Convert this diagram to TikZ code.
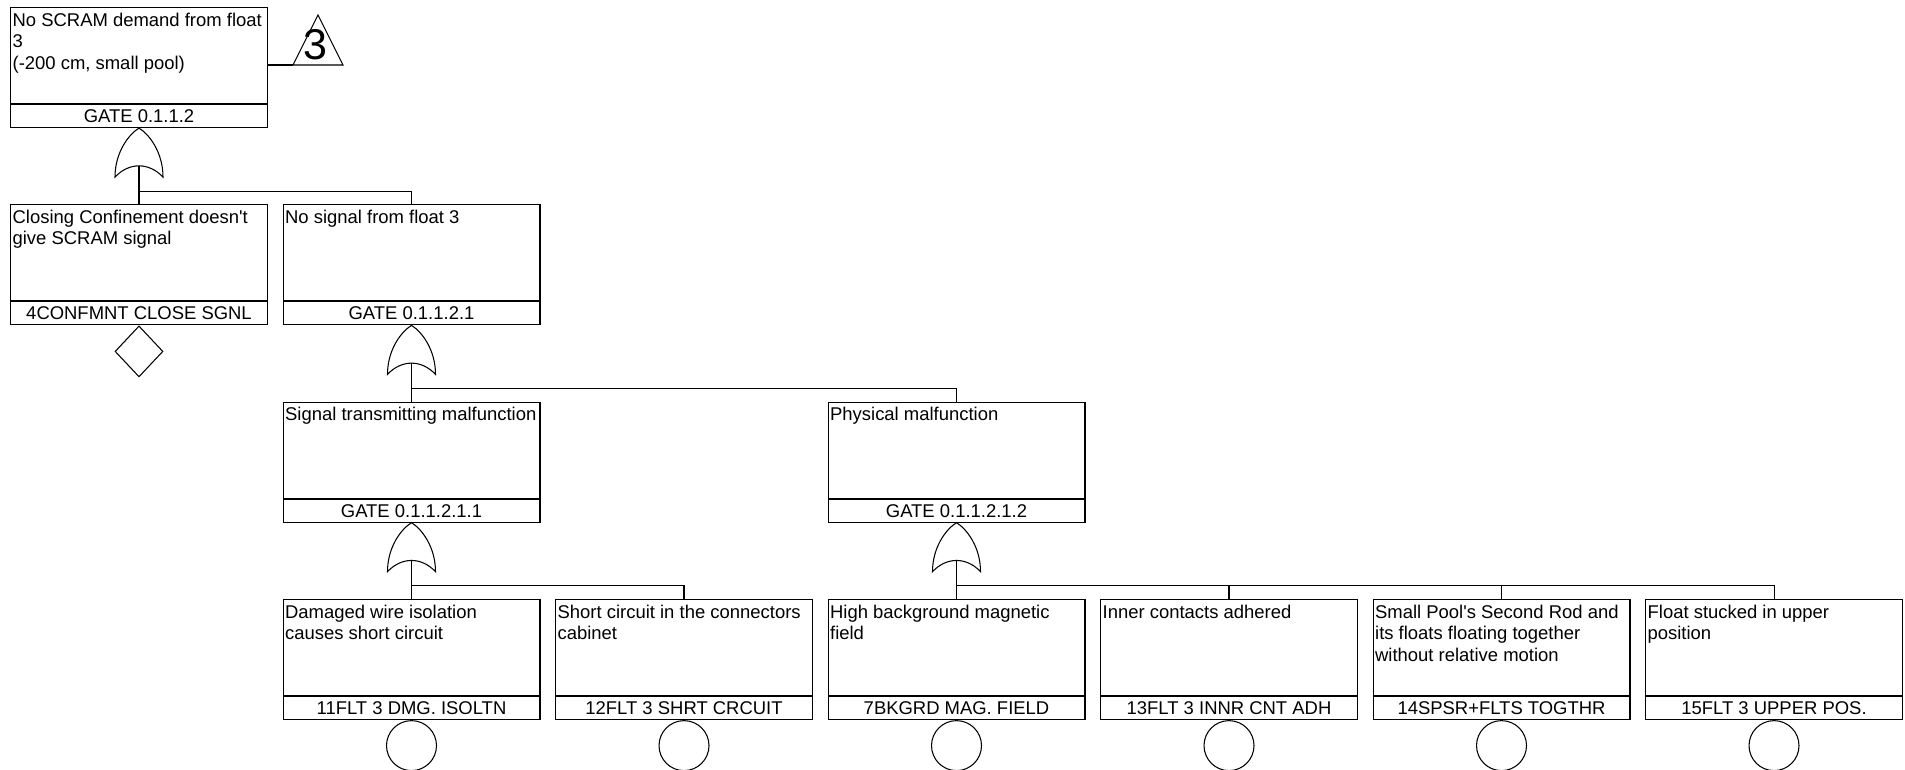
\documentclass[tikz,border=0pt]{standalone}
\usepackage{fontspec}
\setmainfont{Liberation Sans}
\usetikzlibrary{positioning,shapes.geometric}

\newcommand{\evfont}{\fontsize{10.5}{12.2}\selectfont}

% event box: name, x, y, description, identifier
\newcommand{\event}[5]{%
  \node[evbox] (#1) at (#2,#3) {};
  \node[evtext] (#1-t) at (#1.north west) {#4};
  \node[idbox, below=0pt of #1] (#1-id) {#5};
}

% or gate hanging below an event: name of output, apex
\newcommand{\orgate}[2]{%
  \begin{scope}[shift={(#2)}]
    \draw (0,0) .. controls (-10,6) and (-24,24) .. (-24,49)
      .. controls (-10,34) and (10,34) .. (24,49)
      .. controls (24,24) and (10,6) .. (0,0);
    \coordinate (#1) at (0,37.75);
  \end{scope}
}

\begin{document}
\begin{tikzpicture}[x=0.02cm, y=-0.02cm, line width=0.6pt,
    evbox/.style={draw, minimum width=5.14cm, minimum height=1.92cm, anchor=north west, inner sep=0pt},
    evtext/.style={anchor=north west, align=left, inner xsep=1.2pt, inner ysep=3pt, font=\evfont},
    idbox/.style={draw, minimum width=5.14cm, minimum height=0.46cm, inner sep=0pt, font=\evfont},
    basic/.style={circle, draw, minimum size=1cm, inner sep=0pt},
    undev/.style={diamond, draw, minimum width=0.96cm, minimum height=1.02cm, inner sep=0pt}]
  \useasboundingbox (0,0) rectangle (1905,769);

  % Top event
  \event{top}{10}{7}{No SCRAM demand from float\\3\\(-200 cm, small pool)}{GATE 0.1.1.2}
  % Transfer symbol
  \coordinate (tra) at (318,15);
  \coordinate (trl) at (293,65);
  \coordinate (trr) at (343,65);
  \draw (trl) -- (tra) -- (trr) -- cycle;
  \node[font=\fontsize{24.5}{24.5}\selectfont, inner sep=0pt] (trn) at (315,45) {3};
  \draw (top.east |- trl) -- (trl);

  % Second row
  \event{confine}{10}{204.3}{Closing Confinement doesn\textquotesingle t\\give SCRAM signal}{4CONFMNT CLOSE SGNL}
  \event{nosig}{282.5}{204.3}{No signal from float 3}{GATE 0.1.1.2.1}
  \node[undev, below=0pt of confine-id] (confine-d) {};

  % Third row
  \event{sigtx}{282.5}{401.6}{Signal transmitting malfunction}{GATE 0.1.1.2.1.1}
  \event{phys}{827.5}{401.6}{Physical malfunction}{GATE 0.1.1.2.1.2}

  % Basic events
  \event{wire}{282.5}{599}{Damaged wire isolation\\causes short circuit}{11FLT 3 DMG. ISOLTN}
  \event{short}{555}{599}{Short circuit in the connectors\\cabinet}{12FLT 3 SHRT CRCUIT}
  \event{magfld}{827.5}{599}{High background magnetic\\field}{7BKGRD MAG. FIELD}
  \event{innr}{1100}{599}{Inner contacts adhered}{13FLT 3 INNR CNT ADH}
  \event{spsr}{1372.5}{599}{Small Pool\textquotesingle s Second Rod and\\its floats floating together\\without relative motion}{14SPSR+FLTS TOGTHR}
  \event{upper}{1645}{599}{Float stucked in upper\\position}{15FLT 3 UPPER POS.}
  \foreach \e in {wire,short,magfld,innr,spsr,upper} {
    \node[basic, below=0pt of \e-id] (\e-c) {};
  }

  % Gates and connectors
  \orgate{g1}{top-id.south}
  \foreach \c in {confine,nosig}
    \draw (g1) -- ++(0,25.25) -| (\c.north);
  \orgate{g2}{nosig-id.south}
  \foreach \c in {sigtx,phys}
    \draw (g2) -- ++(0,25.25) -| (\c.north);
  \orgate{g3}{sigtx-id.south}
  \foreach \c in {wire,short}
    \draw (g3) -- ++(0,25.25) -| (\c.north);
  \orgate{g4}{phys-id.south}
  \foreach \c in {magfld,innr,spsr,upper}
    \draw (g4) -- ++(0,25.25) -| (\c.north);
\end{tikzpicture}
\end{document}
